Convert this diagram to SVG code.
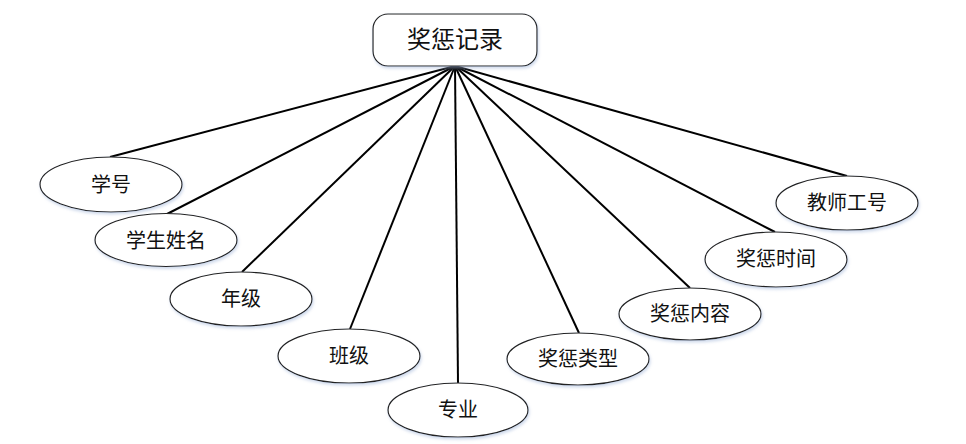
<svg xmlns="http://www.w3.org/2000/svg" width="966" height="444" viewBox="0 0 966 444">
<defs>
<filter id="sh" x="-20%" y="-20%" width="140%" height="150%">
<feGaussianBlur in="SourceAlpha" stdDeviation="1.5"/>
<feOffset dx="1" dy="2" result="b"/>
<feFlood flood-color="#9fb4d8" flood-opacity="0.5"/>
<feComposite in2="b" operator="in"/>
<feMerge><feMergeNode/><feMergeNode in="SourceGraphic"/></feMerge>
</filter>
</defs>
<style>
.n{fill:#fff;stroke:#222;stroke-width:1.2;filter:url(#sh)}
.t{font-family:"Liberation Serif","Noto Sans CJK SC",serif;font-size:20px;fill:#111;text-anchor:middle;dominant-baseline:central}
.c line{stroke:#000;stroke-width:2}
</style>
<rect width="966" height="444" fill="#fff"/>
<g class="c" id="connectors">
<line x1="455" y1="66" x2="110" y2="157"/>
<line x1="455" y1="66" x2="167" y2="214"/>
<line x1="455" y1="66" x2="242" y2="272"/>
<line x1="455" y1="66" x2="350" y2="329"/>
<line x1="455" y1="66" x2="458" y2="383"/>
<line x1="455" y1="66" x2="579" y2="333"/>
<line x1="455" y1="66" x2="690" y2="288"/>
<line x1="455" y1="66" x2="775" y2="232"/>
<line x1="455" y1="66" x2="847" y2="176"/>
</g>
<g id="root"><rect class="n" x="373" y="14" width="164" height="52" rx="15"/><text class="t" x="455" y="40" style="font-size:24px">奖惩记录</text></g>
<g id="xuehao"><ellipse class="n" cx="111" cy="184.5" rx="71" ry="27.5"/><text class="t" x="111" y="185">学号</text></g>
<g id="xingming"><ellipse class="n" cx="166" cy="240" rx="71" ry="26.5"/><text class="t" x="166" y="241">学生姓名</text></g>
<g id="nianji"><ellipse class="n" cx="241" cy="299" rx="71" ry="27"/><text class="t" x="241" y="299">年级</text></g>
<g id="banji"><ellipse class="n" cx="349" cy="356" rx="71" ry="27"/><text class="t" x="349" y="356">班级</text></g>
<g id="zhuanye"><ellipse class="n" cx="458" cy="410" rx="70" ry="27"/><text class="t" x="458" y="410">专业</text></g>
<g id="leixing"><ellipse class="n" cx="578" cy="359" rx="71" ry="26"/><text class="t" x="578" y="359">奖惩类型</text></g>
<g id="neirong"><ellipse class="n" cx="690" cy="314" rx="71" ry="26"/><text class="t" x="690" y="314">奖惩内容</text></g>
<g id="shijian"><ellipse class="n" cx="776" cy="259.5" rx="71" ry="27.5"/><text class="t" x="776" y="259">奖惩时间</text></g>
<g id="gonghao"><ellipse class="n" cx="847" cy="203" rx="71" ry="27"/><text class="t" x="847" y="203">教师工号</text></g>
</svg>
